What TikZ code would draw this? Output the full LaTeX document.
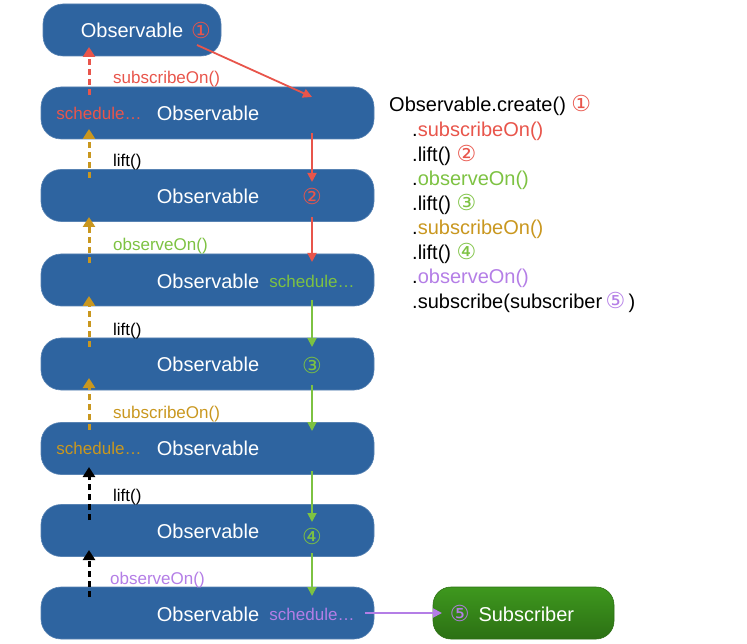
\documentclass[tikz,border=0pt]{standalone}
\usepackage{fontspec}
\setmainfont{Liberation Sans}
\newfontfamily\symfont{DejaVu Sans}
\usetikzlibrary{arrows.meta}
\definecolor{boxblue}{RGB}{46,100,160}
\definecolor{cred}{RGB}{232,85,75}
\definecolor{cgreen}{RGB}{125,194,66}
\definecolor{cgold}{RGB}{201,151,31}
\definecolor{cpurple}{RGB}{180,126,230}
\definecolor{subtop}{RGB}{62,152,30}
\definecolor{subbot}{RGB}{44,112,20}
\newcommand{\circd}[2]{{\symfont\fontsize{22}{24}\selectfont\color{#1}#2}}
\tikzset{
  obsbox/.style={draw=boxblue!80!white, line width=0.6pt, fill=boxblue, rounded corners=20pt, inner sep=0pt, minimum height=52pt},
  rowbox/.style={obsbox, minimum width=333pt},
  big/.style={font=\fontsize{20}{24}\selectfont},
  lbl/.style={font=\fontsize{17}{20}\selectfont, inner sep=0pt},
  obstext/.style={big, text=white, inner sep=0pt},
  num/.style={font=\symfont\fontsize{22}{24}\selectfont, inner sep=0pt},
  codeline/.style={big, anchor=base west, inner sep=0pt},
  flow/.style={line width=1.8pt, -{Triangle[length=9pt,width=9pt]}},
  back/.style={line width=3pt, dash pattern=on 6pt off 4pt, -{Triangle[length=10pt,width=12pt]}},
}
\begin{document}
\begin{tikzpicture}[x=1pt,y=-1pt]
\useasboundingbox (0,0) rectangle (747,644);

% boxes
\node[obsbox, minimum width=178pt] (top) at (132,30) {};
\node[rowbox] (r1) at (207.5,113) {};
\node[rowbox] (r2) at (207.5,195.5) {};
\node[rowbox] (r3) at (207.5,280) {};
\node[rowbox] (r4) at (207.5,364) {};
\node[rowbox] (r5) at (207.5,448.5) {};
\node[rowbox] (r6) at (207.5,530.5) {};
\node[rowbox] (r7) at (207.5,613) {};
\node[rounded corners=18pt, top color=subtop, bottom color=subbot, draw=subbot, line width=0.6pt, minimum width=181pt, minimum height=52pt, inner sep=0pt] (sub) at (523.5,613) {};

% texts in boxes
\node[obstext] (t0) at (132,30) {Observable};
\node[num, text=cred] (n1) at (201,30) {①};
\node[obstext] (t1) at (208,113) {Observable};
\node[obstext] (t2) at (208,196) {Observable};
\node[obstext] (t3) at (208,281) {Observable};
\node[obstext] (t4) at (208,364) {Observable};
\node[obstext] (t5) at (208,448) {Observable};
\node[obstext] (t6) at (208,531) {Observable};
\node[obstext] (t7) at (208,614) {Observable};

\node[lbl, text=cred] (s1) at (99,113) {schedule…};
\node[lbl, text=cgreen] (s3) at (312,281) {schedule…};
\node[lbl, text=cgold] (s5) at (99,448) {schedule…};
\node[lbl, text=cpurple] (s7) at (312,614) {schedule…};

\node[num, text=cred] (n2) at (312,196) {②};
\node[num, text=cgreen] (n3) at (312,365) {③};
\node[num, text=cgreen] (n4) at (312,536) {④};

\node[big, inner sep=0pt] (subtxt) at (512,613) {\circd{cpurple}{⑤}\, \textcolor{white}{Subscriber}};

% operator labels
\node[lbl, anchor=west, text=cred] (l1) at (113,79) {subscribeOn()};
\node[lbl, anchor=west] (l2) at (113,162) {lift()};
\node[lbl, anchor=west, text=cgreen] (l3) at (113,246) {observeOn()};
\node[lbl, anchor=west] (l4) at (113,331) {lift()};
\node[lbl, anchor=west, text=cgold] (l5) at (113,414) {subscribeOn()};
\node[lbl, anchor=west] (l6) at (113,497) {lift()};
\node[lbl, anchor=west, text=cpurple] (l7) at (110,580) {observeOn()};

% code listing
\node[codeline] (c1) at (389,112) {Observable.create() \circd{cred}{①}};
\node[codeline] (c2) at (412,137) {.\textcolor{cred}{subscribeOn()}};
\node[codeline] (c3) at (412,161.5) {.lift() \circd{cred}{②}};
\node[codeline] (c4) at (412,186) {.\textcolor{cgreen}{observeOn()}};
\node[codeline] (c5) at (412,210.5) {.lift() \circd{cgreen}{③}};
\node[codeline] (c6) at (412,235) {.\textcolor{cgold}{subscribeOn()}};
\node[codeline] (c7) at (412,259.5) {.lift() \circd{cgreen}{④}};
\node[codeline] (c8) at (412,284) {.\textcolor{cpurple}{observeOn()}};
\node[codeline] (c9) at (412,308.5) {.subscribe(subscriber\,\circd{cpurple}{⑤}\,)};

% flow coordinates (right column)
\coordinate (d0) at (197,45);
\coordinate (d1) at (312,97);
\coordinate (e1s) at (312,133);
\coordinate (e1t) at (312,182);
\coordinate (e2s) at (312,217);
\coordinate (e2t) at (312,262);
\coordinate (e3s) at (312,300);
\coordinate (e3t) at (312,347);
\coordinate (e4s) at (312,385);
\coordinate (e4t) at (312,431);
\coordinate (e5s) at (312,471);
\coordinate (e5t) at (312,522);
\coordinate (e6s) at (312,553);
\coordinate (e6t) at (312,596);
\coordinate (ps) at (365,613);
\coordinate (pt) at (442,613);

\draw[flow, cred] (d0) -- (d1);
\draw[flow, cred] (e1s) -- (e1t);
\draw[flow, cred] (e2s) -- (e2t);
\draw[flow, cgreen] (e3s) -- (e3t);
\draw[flow, cgreen] (e4s) -- (e4t);
\draw[flow, cgreen] (e5s) -- (e5t);
\draw[flow, cgreen] (e6s) -- (e6t);
\draw[flow, cpurple] (ps) -- (pt);

% back (subscribe) coordinates (left column)
\coordinate (b1s) at (89,95);  \coordinate (b1t) at (89,47);
\coordinate (b2s) at (89,178); \coordinate (b2t) at (89,129);
\coordinate (b3s) at (89,263); \coordinate (b3t) at (89,217);
\coordinate (b4s) at (89,347); \coordinate (b4t) at (89,296);
\coordinate (b5s) at (89,430); \coordinate (b5t) at (89,378);
\coordinate (b6s) at (89,520); \coordinate (b6t) at (89,467);
\coordinate (b7s) at (89,597); \coordinate (b7t) at (89,550);

\draw[back, cred] (b1s) -- (b1t);
\draw[back, cgold] (b2s) -- (b2t);
\draw[back, cgold] (b3s) -- (b3t);
\draw[back, cgold] (b4s) -- (b4t);
\draw[back, cgold] (b5s) -- (b5t);
\draw[back, black] (b6s) -- (b6t);
\draw[back, black] (b7s) -- (b7t);
\end{tikzpicture}
\end{document}
